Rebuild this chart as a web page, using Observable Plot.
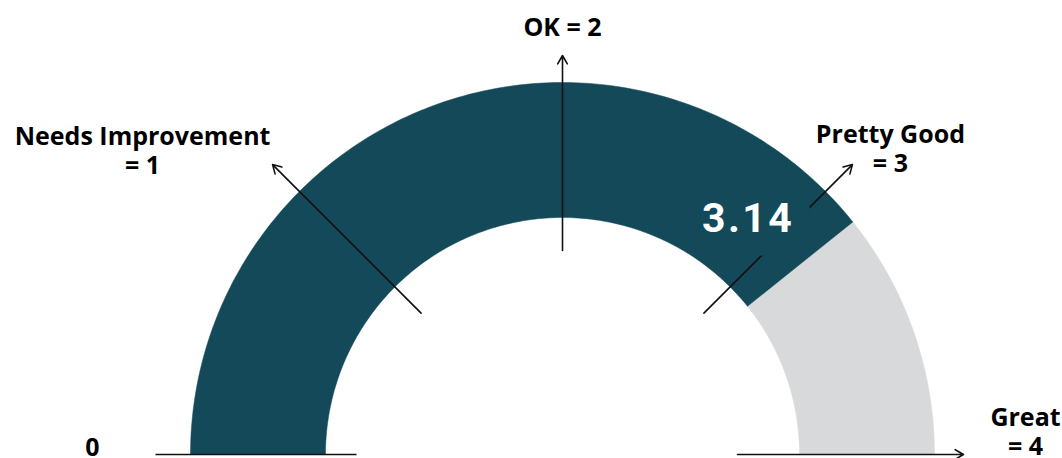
<!DOCTYPE html>
<html>
<head>
<meta charset="utf-8">
<script src="https://cdn.jsdelivr.net/npm/d3@7"></script>
<script src="https://cdn.jsdelivr.net/npm/@observablehq/plot@0.6"></script>
<style>
  html, body { margin: 0; padding: 0; background: #fff; }
</style>
</head>
<body>
<div id="chart"></div>
<script>
// Gauge reading and its rating scale
const score = 3.14;
const scaleMin = 0;
const scaleMax = 4;
const tickValues = [0, 1, 2, 3, 4];
const tickLabels = ["0", "Needs Improvement\n= 1", "OK = 2", "Pretty Good\n= 3", "Great\n= 4"];
const tickHasHead = [false, true, true, true, true];

// Layout (pixels)
const W = 1062, H = 458;
const cx = 562, cy = 454;          // hub of the dial
const rOuter = 372, rInner = 237;  // band radii
const tickInner = [206, 200, 204, 200, 175];
const tickOuter = [407, 410, 399, 410, 401];
const labelOffset = [[-63, 1], [-130, 9], [0, -20], [38, 7], [62, 0]];
const valueOffset = [-52, -32];     // value label baseline, relative to band middle
const teal = "#134959";
const grey = "#d8d9db";

// value -> angle: min on the left, max on the right, sweeping over the top
const angle = v => Math.PI * (1 - (v - scaleMin) / (scaleMax - scaleMin));
const polar = (v, r) => ({x: r * Math.cos(angle(v)), y: r * Math.sin(angle(v))});

// closed outline of an annular sector between two values
function band(v0, v1, n = 180) {
  const pts = [];
  for (let i = 0; i <= n; i++) pts.push(polar(v0 + (v1 - v0) * i / n, rOuter));
  for (let i = n; i >= 0; i--) pts.push(polar(v0 + (v1 - v0) * i / n, rInner));
  pts.push(pts[0]);
  return pts;
}

const ticks = tickValues.map((v, i) => {
  const a = polar(v, tickInner[i]);
  const b = polar(v, tickOuter[i]);
  return {value: v, head: tickHasHead[i], x1: a.x, y1: a.y, x2: b.x, y2: b.y,
          label: tickLabels[i],
          lx: b.x + labelOffset[i][0], ly: b.y - labelOffset[i][1]};
});

const mid = polar(score, (rOuter + rInner) / 2);
const valueLabel = [{text: score.toFixed(2), x: mid.x + valueOffset[0], y: mid.y - valueOffset[1]}];

const chart = Plot.plot({
  width: W,
  height: H,
  margin: 0,
  x: {domain: [-cx, W - cx], range: [0, W], axis: null},
  y: {domain: [-(H - cy), cy], range: [H, 0], axis: null},
  style: {background: "#fff", overflow: "visible"},
  marks: [
    Plot.line(band(score, scaleMax), {x: "x", y: "y", fill: grey, stroke: grey, strokeWidth: 0.5}),
    Plot.line(band(scaleMin, score), {x: "x", y: "y", fill: teal, stroke: teal, strokeWidth: 0.5}),
    Plot.link(ticks.filter(d => !d.head), {x1: "x1", y1: "y1", x2: "x2", y2: "y2", stroke: "#111", strokeWidth: 1.6}),
    Plot.arrow(ticks.filter(d => d.head), {x1: "x1", y1: "y1", x2: "x2", y2: "y2", stroke: "#111", strokeWidth: 1.6, headLength: 9}),
    // box behind the reading, in band colour, kept inside the band
    Plot.rect(valueLabel, {x1: d => d.x - 48, x2: d => d.x + 62, y1: d => d.y - 24, y2: d => d.y + 37, fill: teal}),
    Plot.text(valueLabel, {x: "x", y: "y", text: "text", fill: "#fff", fontSize: 41,
      fontFamily: "Roboto", fontWeight: 700, lineAnchor: "bottom"}),
    Plot.text(ticks, {x: "lx", y: "ly", text: "label", fill: "#000", fontSize: 25,
      fontFamily: "Open Sans", fontWeight: 700, lineAnchor: "bottom", lineHeight: 1.16})
  ]
});

// slightly open tracking on the reading
const valueGroup = d3.select(chart).selectAll("g[aria-label='text']").nodes()[0];
d3.select(valueGroup).style("letter-spacing", "2.5px");

document.getElementById("chart").appendChild(chart);
</script>
</body>
</html>
